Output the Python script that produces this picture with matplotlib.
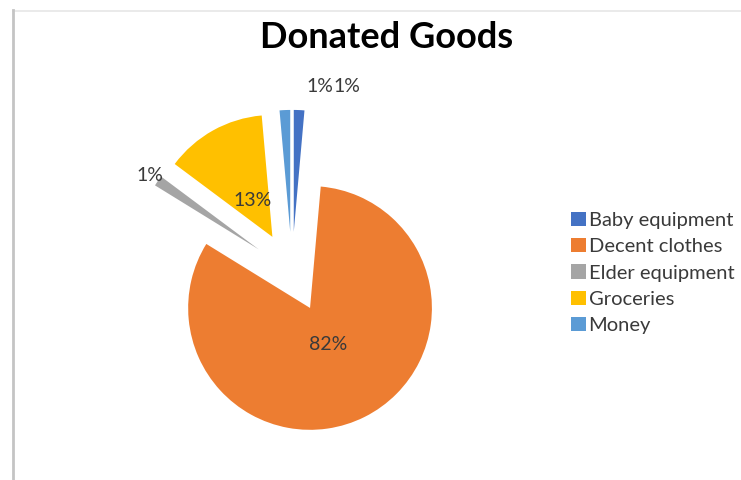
import matplotlib
matplotlib.use("Agg")
import matplotlib.pyplot as plt
import numpy as np
from matplotlib.lines import Line2D

# data
categories = ["Baby equipment", "Decent clothes", "Elder equipment", "Groceries", "Money"]
shares = [1.4, 82.4, 1.4, 13.4, 1.4]
colors = ["#4472C4", "#ED7D31", "#A5A5A5", "#FFC000", "#5B9BD5"]

EXPLODE = 0.33
LABEL_COLOR = "#3a3a3a"
# how far from each wedge's apex its percentage label sits (in radii)
label_radius = {"Baby equipment": 1.19, "Elder equipment": 1.08, "Money": 1.19}
INNER_RADIUS = 0.34

plt.rcParams["font.family"] = ["Lato", "DejaVu Sans"]

fig = plt.figure(figsize=(7.41, 4.80), dpi=100)

# thin chart-area border (top and left edges only are visible)
fig.add_artist(Line2D([13 / 741, 1], [1 - 10.5 / 480] * 2, color="#e6e6e6", lw=1.2))
fig.add_artist(Line2D([13 / 741] * 2, [0, 1 - 10 / 480], color="#c4c4c4", lw=2))

ax = fig.add_axes([97 / 741, 13 / 480, 390 / 741, 390 / 480])
wedges, texts, autotexts = ax.pie(
    shares,
    colors=colors,
    explode=[EXPLODE] * len(shares),
    startangle=90,
    counterclock=False,
    autopct="%1.0f%%",
    wedgeprops={"linewidth": 0},
    textprops={"fontsize": 14, "color": LABEL_COLOR},
)
ax.set_xlim(-1.6, 1.6)
ax.set_ylim(-1.6, 1.6)

# place percentage labels like Excel's "best fit"
for name, w, t in zip(categories, wedges, autotexts):
    mid = np.deg2rad((w.theta1 + w.theta2) / 2)
    rr = label_radius.get(name, INNER_RADIUS)
    cx, cy = w.center
    t.set_position((cx + rr * np.cos(mid), cy + rr * np.sin(mid)))
    t.set_va("center")

# the two tiny slices at the top share a label row, side by side
i_baby, i_money = categories.index("Baby equipment"), categories.index("Money")
xb, yb = autotexts[i_baby].get_position()
xm, ym = autotexts[i_money].get_position()
anchor_x = (xb + xm) / 2 + 0.34
autotexts[i_money].set_position((anchor_x, ym))
autotexts[i_money].set_ha("right")
autotexts[i_baby].set_position((anchor_x, yb))
autotexts[i_baby].set_ha("left")

fig.text(387 / 741, 1 - 48 / 480, "Donated Goods", ha="center", va="baseline",
         fontsize=26, fontweight="bold", color="black")

fig.legend(wedges, categories, loc="center left", bbox_to_anchor=(571 / 741, 1 - 273 / 480),
           frameon=False, fontsize=14.5, borderpad=0, borderaxespad=0,
           handlelength=0.72, handleheight=0.72, handletextpad=0.15, labelspacing=0.45,
           labelcolor=LABEL_COLOR)

fig.savefig("out.png", dpi=100)
